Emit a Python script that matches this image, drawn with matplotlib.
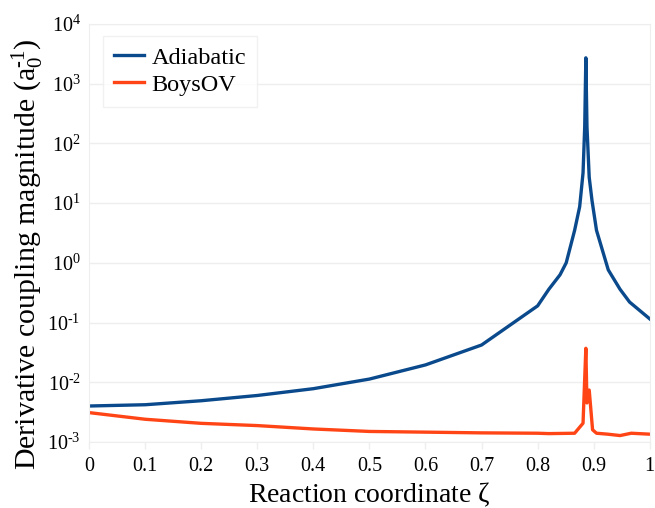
import matplotlib
matplotlib.use("Agg")
import matplotlib.pyplot as plt
from matplotlib.ticker import FuncFormatter
import math

plt.rcParams["font.family"] = ["Liberation Serif", "DejaVu Serif"]
plt.rcParams["mathtext.fontset"] = "custom"
plt.rcParams["mathtext.rm"] = "Liberation Serif"
plt.rcParams["mathtext.it"] = "Liberation Serif:italic"
plt.rcParams["mathtext.default"] = "regular"

# Reaction coordinate and coupling magnitudes
adiabatic_x = [0.0, 0.1, 0.2, 0.3, 0.4, 0.5, 0.6, 0.7, 0.8, 0.82, 0.84, 0.851,
               0.866, 0.875, 0.881, 0.884, 0.886, 0.888, 0.892, 0.897, 0.905,
               0.926, 0.947, 0.964, 1.0]
adiabatic_y = [0.0040, 0.0042, 0.0049, 0.0060, 0.0078, 0.0113, 0.0195, 0.042,
               0.19, 0.36, 0.63, 1.0, 3.5, 8.7, 32, 190, 2700, 190, 27, 11,
               3.5, 0.76, 0.36, 0.22, 0.115]

boys_x = [0.0, 0.1, 0.2, 0.3, 0.4, 0.5, 0.6, 0.7, 0.8, 0.82, 0.866, 0.881,
          0.886, 0.888, 0.892, 0.898, 0.905, 0.925, 0.947, 0.967, 1.0]
boys_y = [0.0031, 0.0024, 0.00205, 0.00188, 0.00165, 0.0015, 0.00146,
          0.00142, 0.0014, 0.00138, 0.0014, 0.00206, 0.037, 0.0045, 0.0074,
          0.0016, 0.0014, 0.00135, 0.00128, 0.0014, 0.00135]

x_ticks = [0, 0.1, 0.2, 0.3, 0.4, 0.5, 0.6, 0.7, 0.8, 0.9, 1]
x_tick_labels = ["0", "0.1", "0.2", "0.3", "0.4", "0.5", "0.6", "0.7", "0.8", "0.9", "1"]
y_exponents = [-3, -2, -1, 0, 1, 2, 3, 4]


def power_label(v, _pos):
    k = int(round(math.log10(v)))
    exp = str(k).replace("-", "\u2010")
    return "$10^{%s}$" % exp


fig = plt.figure(figsize=(6.55, 5.08), dpi=100)
ax = fig.add_axes([0.136, 0.130, 0.856, 0.823])

ax.plot(adiabatic_x, adiabatic_y, color="#0a4a8c", lw=2.4, label="Adiabatic")
ax.plot(boys_x, boys_y, color="#ff4516", lw=2.4, label="BoysOV")

ax.set_yscale("log")
ax.set_ylim(1e-3, 1e4)
ax.set_xlim(0, 1)
ax.set_xticks(x_ticks)
ax.set_xticklabels(x_tick_labels)
ax.minorticks_off()
ax.set_yticks([10.0 ** k for k in y_exponents])
ax.yaxis.set_major_formatter(FuncFormatter(power_label))

grid_c = "#eeeeee"
ax.grid(axis="y", color=grid_c, lw=1)
for s in ax.spines.values():
    s.set_color(grid_c)
ax.tick_params(axis="x", colors=grid_c, length=5, width=1, labelcolor="black",
               labelsize=14.5, pad=6)
ax.tick_params(axis="y", length=0, labelcolor="black", labelsize=14.5, pad=6)

ax.set_xlabel(r"Reaction coordinate $\zeta$", fontsize=20, labelpad=3)
fig.text(27 / 655, 1 - 254 / 508,
         "Derivative coupling magnitude (a$_0^{\u2010 1}$)".replace("\u2010 ", "\u2010"),
         fontsize=21.5, rotation=90, ha="center", va="center")

leg = ax.legend(loc="upper left", bbox_to_anchor=(0.025, 0.971), fontsize=17.5,
                frameon=True, fancybox=False, edgecolor="#eeeeee",
                handlelength=1.25, handletextpad=0.3, borderpad=0.45,
                labelspacing=0.2, borderaxespad=0)
leg.get_frame().set_linewidth(1)

fig.savefig("out.png", dpi=100)
